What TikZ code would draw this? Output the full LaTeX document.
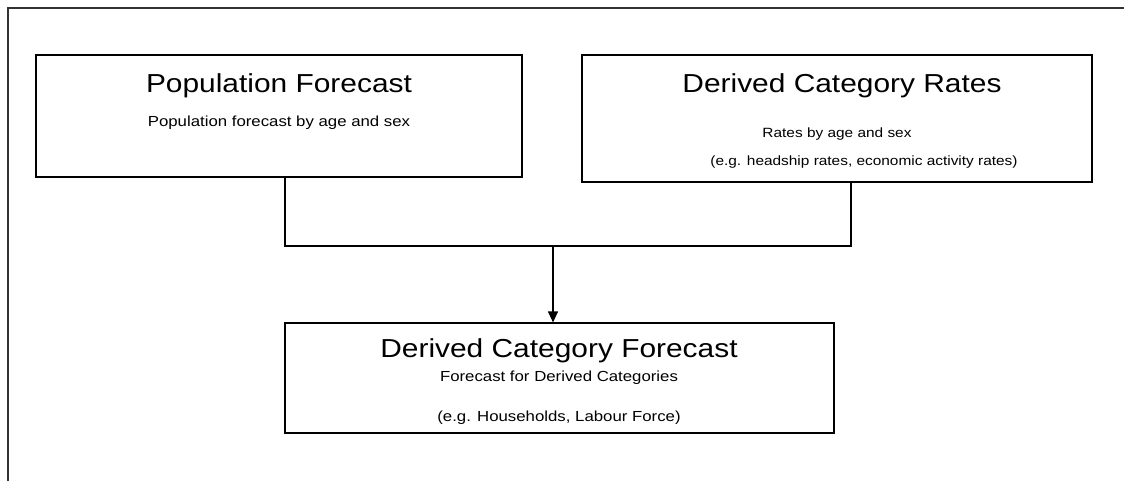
\documentclass[tikz,border=0pt]{standalone}
\usepackage{fontspec}
\setmainfont{Liberation Sans}
\newfontfamily\arialw[FakeStretch=1.15]{Liberation Sans}
\usetikzlibrary{arrows.meta}
\begin{document}
\begin{tikzpicture}[x=1pt,y=-1pt,
  box/.style={draw=black,line width=1.1pt,rectangle,inner sep=0pt},
  title/.style={anchor=base,inner sep=0pt,font=\arialw\fontsize{26}{30}\selectfont},
  subA/.style={anchor=base,inner sep=0pt,font=\arialw\fontsize{14.6}{17}\selectfont},
  subB/.style={anchor=base,inner sep=0pt,font=\arialw\fontsize{13.4}{16}\selectfont},
  conn/.style={draw=black,line width=1.2pt}]
\useasboundingbox (0,0) rectangle (1124,481);
% outer frame (partial)
\coordinate (fl) at (8,481);
\coordinate (ft) at (8,8);
\coordinate (fr) at (1124,8);
\draw[line width=1.2pt,black!80] (fl) -- (ft) -- (fr);
% boxes
\node[box,minimum width=486pt,minimum height=122pt] (p) at (279,116) {};
\node[box,minimum width=510pt,minimum height=127pt] (r) at (837,118.5) {};
\node[box,minimum width=549pt,minimum height=110pt] (d) at (559.5,378) {};
% texts
\node[title] (pt) at (279,93) {Population Forecast};
\node[subA] (ps) at (279,127) {Population forecast by age and sex};
\node[title] (rt) at (842,93) {Derived Category Rates};
\node[subB] (rs1) at (837,138) {Rates by age and sex};
\node[subB] (rs2) at (864,166) {(e.g. headship rates, economic activity rates)};
\node[title] (dt) at (559,357) {Derived Category Forecast};
\node[subA] (ds1) at (559,381) {Forecast for Derived Categories};
\node[subA] (ds2) at (559,421) {(e.g. Households, Labour Force)};
% connectors
\coordinate (jl) at (285,246);
\coordinate (jr) at (851,246);
\coordinate (jm) at (553,246);
\draw[conn] (p.south -| jl) -- (jl) -- (jr) -- (r.south -| jr);
\draw[conn,-{Triangle[length=11pt,width=10pt]}] (jm) -- (d.north -| jm);
\end{tikzpicture}
\end{document}
